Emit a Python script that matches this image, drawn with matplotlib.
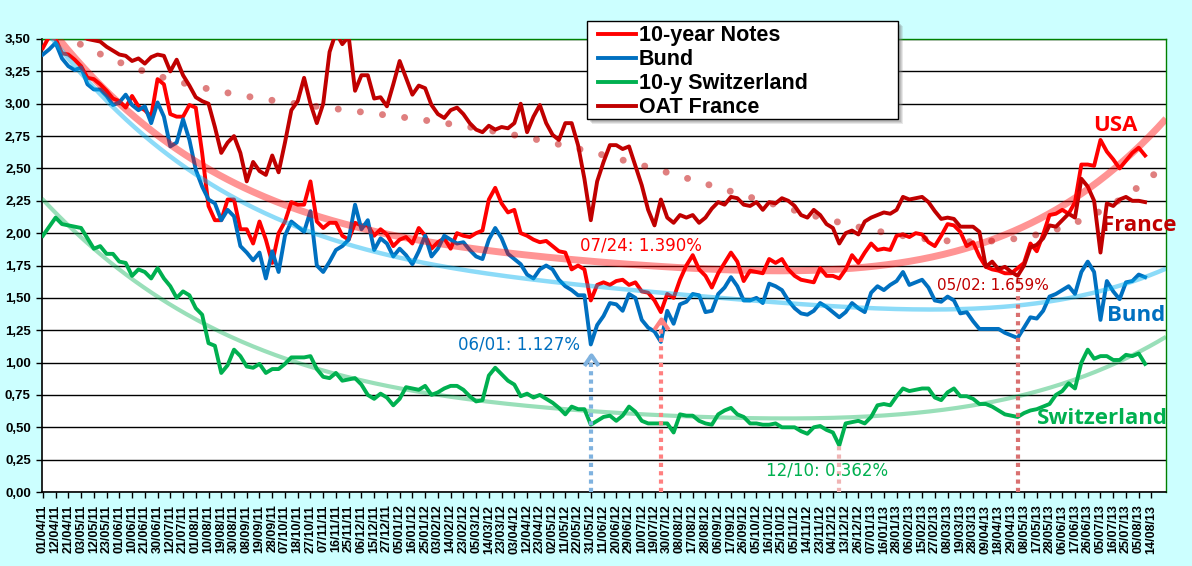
import numpy as np
import matplotlib
matplotlib.use("Agg")
import matplotlib.pyplot as plt
from matplotlib.patches import Rectangle
from matplotlib.path import Path
from matplotlib.ticker import FuncFormatter

# category labels (one every 7 trading days)
tick_dates = [
    '01/04/11', '12/04/11', '21/04/11', '03/05/11', '12/05/11', '23/05/11', '01/06/11', '10/06/11',
    '21/06/11', '30/06/11', '12/07/11', '21/07/11', '01/08/11', '10/08/11', '19/08/11', '30/08/11',
    '08/09/11', '19/09/11', '28/09/11', '07/10/11', '18/10/11', '27/10/11', '07/11/11', '16/11/11',
    '25/11/11', '06/12/11', '15/12/11', '27/12/11', '05/01/12', '16/01/12', '25/01/12', '03/02/12',
    '14/02/12', '23/02/12', '05/03/12', '14/03/12', '23/03/12', '03/04/12', '12/04/12', '23/04/12',
    '02/05/12', '11/05/12', '22/05/12', '31/05/12', '11/06/12', '20/06/12', '29/06/12', '10/07/12',
    '19/07/12', '30/07/12', '08/08/12', '17/08/12', '28/08/12', '06/09/12', '17/09/12', '26/09/12',
    '05/10/12', '16/10/12', '25/10/12', '05/11/12', '14/11/12', '23/11/12', '04/12/12', '13/12/12',
    '26/12/12', '07/01/13', '16/01/13', '28/01/13', '06/02/13', '15/02/13', '27/02/13', '08/03/13',
    '19/03/13', '28/03/13', '09/04/13', '18/04/13', '29/04/13', '08/05/13', '17/05/13', '28/05/13',
    '06/06/13', '17/06/13', '26/06/13', '05/07/13', '16/07/13', '25/07/13', '05/08/13', '14/08/13',
]

notes_10y = [
    3.43, 3.52, 3.50, 3.39, 3.38, 3.34, 3.29, 3.20, 3.19, 3.15, 3.10, 3.04, 3.02, 2.97, 3.06, 2.98,
    2.95, 2.90, 3.19, 3.15, 2.92, 2.90, 2.90, 2.99, 2.97, 2.62, 2.21, 2.10, 2.10, 2.26, 2.26, 2.03,
    2.03, 1.92, 2.09, 1.95, 1.77, 2.00, 2.09, 2.24, 2.22, 2.22, 2.40, 2.09, 2.04, 2.08,
    2.08, 1.98, 1.95, 2.08, 2.06, 2.06, 1.98, 2.03, 1.99, 1.90, 1.95, 1.97, 1.92, 2.04, 1.98, 1.88,
    1.93, 1.96, 1.88, 2.00, 1.98, 1.97, 2.00, 2.02, 2.26, 2.35, 2.23, 2.16, 2.18, 2.00, 1.98, 1.95,
    1.93, 1.94, 1.90, 1.86, 1.85, 1.72, 1.75, 1.72, 1.48, 1.60, 1.62, 1.60,
    1.63, 1.64, 1.60, 1.62, 1.55, 1.54, 1.48, 1.39, 1.53, 1.50, 1.64, 1.75, 1.83, 1.72, 1.67, 1.58,
    1.69, 1.77, 1.85, 1.78, 1.63, 1.71, 1.70, 1.69, 1.80, 1.77, 1.80, 1.72, 1.67, 1.64, 1.63, 1.62,
    1.73, 1.67, 1.67, 1.65, 1.72, 1.83, 1.77, 1.85, 1.92, 1.87, 1.88, 1.87,
    1.98, 1.99, 1.97, 2.00, 1.99, 1.93, 1.90, 1.98, 2.07, 2.06, 2.01, 1.90, 1.93, 1.82, 1.74, 1.72,
    1.71, 1.69, 1.69, 1.73, 1.77, 1.92, 1.86, 1.99, 2.14, 2.15, 2.18, 2.15, 2.24, 2.53, 2.53, 2.52,
    2.72, 2.63, 2.57, 2.50, 2.56, 2.62, 2.66, 2.60,
]
bund = [
    3.38, 3.42, 3.47, 3.35, 3.29, 3.26, 3.28, 3.15, 3.11, 3.11, 3.06, 2.99, 3.01, 3.07, 2.99, 2.95,
    2.98, 2.85, 3.01, 2.90, 2.67, 2.70, 2.88, 2.72, 2.49, 2.36, 2.26, 2.23, 2.10, 2.18, 2.13, 1.90,
    1.85, 1.79, 1.85, 1.65, 1.86, 1.70, 1.98, 2.09, 2.05, 2.01, 2.17, 1.75, 1.70, 1.78,
    1.87, 1.90, 1.95, 2.22, 2.03, 2.10, 1.87, 1.96, 1.92, 1.82, 1.88, 1.83, 1.76, 1.86, 1.98, 1.82,
    1.88, 1.98, 1.95, 1.92, 1.93, 1.87, 1.82, 1.80, 1.95, 2.04, 1.96, 1.84, 1.80, 1.76, 1.68, 1.65,
    1.72, 1.75, 1.72, 1.64, 1.59, 1.56, 1.52, 1.52, 1.14, 1.29, 1.36, 1.46,
    1.45, 1.40, 1.53, 1.50, 1.33, 1.27, 1.24, 1.16, 1.40, 1.30, 1.45, 1.47, 1.53, 1.52, 1.39, 1.40,
    1.53, 1.58, 1.66, 1.59, 1.48, 1.48, 1.50, 1.46, 1.61, 1.59, 1.56, 1.48, 1.42, 1.38, 1.37, 1.40,
    1.46, 1.43, 1.39, 1.35, 1.39, 1.46, 1.42, 1.39, 1.54, 1.59, 1.56, 1.60,
    1.63, 1.70, 1.60, 1.62, 1.64, 1.58, 1.48, 1.47, 1.51, 1.48, 1.38, 1.39, 1.32, 1.26, 1.26, 1.26,
    1.26, 1.23, 1.21, 1.19, 1.27, 1.35, 1.34, 1.40, 1.51, 1.53, 1.56, 1.59, 1.53, 1.70, 1.78, 1.70,
    1.33, 1.63, 1.55, 1.49, 1.62, 1.63, 1.68, 1.66,
]
swiss = [
    1.98, 2.05, 2.12, 2.07, 2.06, 2.05, 2.04, 1.96, 1.88, 1.90, 1.84, 1.84, 1.78, 1.77, 1.67, 1.72,
    1.70, 1.65, 1.73, 1.65, 1.59, 1.50, 1.55, 1.52, 1.42, 1.37, 1.15, 1.13, 0.92, 0.98, 1.10, 1.05,
    0.97, 0.96, 0.99, 0.92, 0.95, 0.95, 0.99, 1.04, 1.04, 1.04, 1.05, 0.95, 0.89, 0.88,
    0.92, 0.86, 0.87, 0.88, 0.83, 0.75, 0.72, 0.76, 0.73, 0.67, 0.72, 0.81, 0.80, 0.79, 0.82, 0.75,
    0.77, 0.80, 0.82, 0.82, 0.79, 0.74, 0.70, 0.71, 0.90, 0.96, 0.91, 0.86, 0.83, 0.74, 0.76, 0.73,
    0.75, 0.72, 0.69, 0.65, 0.60, 0.66, 0.64, 0.64, 0.52, 0.55, 0.58, 0.59,
    0.55, 0.59, 0.66, 0.62, 0.55, 0.53, 0.53, 0.53, 0.53, 0.46, 0.60, 0.59, 0.59, 0.55, 0.53, 0.52,
    0.60, 0.63, 0.65, 0.60, 0.58, 0.53, 0.53, 0.52, 0.52, 0.53, 0.50, 0.50, 0.50, 0.47, 0.45, 0.50,
    0.51, 0.48, 0.46, 0.36, 0.53, 0.54, 0.55, 0.53, 0.58, 0.67, 0.68, 0.67,
    0.74, 0.80, 0.78, 0.79, 0.80, 0.80, 0.73, 0.71, 0.77, 0.80, 0.74, 0.74, 0.72, 0.68, 0.68, 0.66,
    0.63, 0.60, 0.59, 0.58, 0.61, 0.63, 0.64, 0.66, 0.68, 0.75, 0.78, 0.84, 0.80, 1.00, 1.10, 1.03,
    1.05, 1.05, 1.02, 1.02, 1.06, 1.05, 1.07, 0.99,
]
oat_france = [
    3.60, 3.58, 3.62, 3.60, 3.57, 3.55, 3.53, 3.50, 3.49, 3.48, 3.44, 3.41, 3.38, 3.37, 3.33, 3.35,
    3.31, 3.36, 3.38, 3.37, 3.25, 3.34, 3.22, 3.14, 3.05, 3.02, 3.00, 2.82, 2.62, 2.70, 2.75, 2.62,
    2.40, 2.55, 2.48, 2.45, 2.60, 2.47, 2.70, 2.95, 3.02, 3.20, 3.00, 2.85, 3.00, 3.40,
    3.55, 3.46, 3.52, 3.10, 3.22, 3.22, 3.04, 3.05, 2.98, 3.15, 3.33, 3.20, 3.07, 3.14, 3.12, 2.99,
    2.92, 2.89, 2.95, 2.97, 2.92, 2.85, 2.80, 2.78, 2.83, 2.80, 2.82, 2.81, 2.85, 3.00, 2.78, 2.90,
    2.99, 2.85, 2.76, 2.72, 2.85, 2.85, 2.68, 2.42, 2.10, 2.40, 2.55, 2.68,
    2.68, 2.65, 2.67, 2.52, 2.37, 2.18, 2.06, 2.26, 2.12, 2.08, 2.14, 2.12, 2.14, 2.08, 2.12, 2.19,
    2.24, 2.22, 2.28, 2.27, 2.22, 2.21, 2.24, 2.18, 2.24, 2.23, 2.27, 2.25, 2.21, 2.14, 2.12, 2.18,
    2.14, 2.07, 2.04, 1.92, 2.00, 2.02, 1.99, 2.09, 2.12, 2.14, 2.16, 2.15,
    2.18, 2.28, 2.26, 2.27, 2.28, 2.24, 2.17, 2.11, 2.12, 2.11, 2.05, 2.05, 2.05, 2.01, 1.74, 1.78,
    1.72, 1.74, 1.70, 1.67, 1.75, 1.89, 1.91, 1.96, 2.06, 2.05, 2.10, 2.15, 2.12, 2.42, 2.36, 2.25,
    1.85, 2.23, 2.21, 2.26, 2.28, 2.25, 2.25, 2.24,
]

step = 3.5
x = np.arange(len(notes_10y)) * step
x_end = 617.0

W, H = 1192, 566
fig = plt.figure(figsize=(W / 100, H / 100), dpi=100, facecolor='#CCFFFF')
ax = fig.add_axes([0.0352, 0.1307, 0.9430, 0.8004])
ax.set_facecolor('white')

series = [
    ('10-year Notes', notes_10y, '#FF0000'),
    ('Bund', bund, '#0070C0'),
    ('10-y Switzerland', swiss, '#00B050'),
    ('OAT France', oat_france, '#C00000'),
]
handles = []
for name, vals, col in series:
    h, = ax.plot(x, vals, color=col, lw=2.8, label=name, zorder=3, solid_joinstyle='round')
    handles.append(h)

# polynomial trend lines (order 4)
xt = np.linspace(-0.5, x_end, 400)
def trend(vals, deg=4):
    return np.polyval(np.polyfit(x, vals, deg), xt)

ax.plot(xt, trend(notes_10y), color='#FF0000', alpha=0.42, lw=5, zorder=4, solid_capstyle='butt')
ax.plot(xt, trend(bund), color='#00B0F0', alpha=0.45, lw=3.2, zorder=4, solid_capstyle='butt')
ax.plot(xt, trend(swiss), color='#00B050', alpha=0.4, lw=3, zorder=4, solid_capstyle='butt')
ax.plot(xt, trend(oat_france), color='#C00000', alpha=0.5, lw=5, zorder=4,
        linestyle=(0, (0.01, 3.2)), dash_capstyle='round')

chevron = Path([(-0.55, -0.8), (0.0, 0.0), (0.55, -0.8)], [Path.MOVETO, Path.LINETO, Path.LINETO])

# minimum markers: dotted line from the axis up to the low
def low_arrow(vals, lo, hi, color, gap, text, dx, dy, tcolor, size, head=True, ha='left'):
    seg = np.array(vals[lo:hi])
    i = lo + int(np.argmin(seg))
    xm, vm = x[i], vals[i]
    top = vm - gap
    ax.plot([xm, xm], [0, top], color=color, lw=3, ls=(0, (1, 1)), zorder=5,
            dash_capstyle='butt')
    if head:
        ax.plot([xm], [top], marker=chevron, ms=15, mfc='none', mec=color, mew=3, zorder=5)
    ax.annotate(text, xy=(xm, vm), xytext=(dx, dy), textcoords='offset points',
                ha=ha, va='center', color=tcolor, fontsize=size,
                family='DejaVu Sans', zorder=6)

low_arrow(bund, 80, 92, '#7FB2DF', 0.08, '06/01: 1.127%', -8, 0, '#0070C0', 12, ha='right')
low_arrow(notes_10y, 92, 100, '#FF8080', 0.05, '07/24: 1.390%', -58, 48, '#FF0000', 12)
low_arrow(swiss, 118, 130, '#F0B4B4', 0.0, '12/10: 0.362%', -53, -18, '#00B050', 12, head=False)
low_arrow(oat_france, 145, 158, '#D97070', 0.02, '05/02: 1.659%', -58, -7, '#C00000', 11, head=False)

# country labels at the right end
lab = dict(fontsize=16, fontweight='bold', family='Open Sans', va='center', zorder=6, clip_on=False)
ax.text(589, 2.83, 'USA', color='#FF0000', ha='center', **lab)
ax.text(582, 2.06, 'France', color='#C00000', ha='left', **lab)
ax.text(584.5, 1.36, 'Bund', color='#0070C0', ha='left', **lab)
ax.text(546, 0.57, 'Switzerland', color='#00B050', ha='left', **lab)

# axes
ax.set_xlim(-0.5, x_end)
ax.set_ylim(0, 3.5)
ax.set_yticks(np.arange(0, 3.51, 0.25))
ax.yaxis.set_major_formatter(FuncFormatter(lambda v, p: f'{v:.2f}'.replace('.', ',')))
ax.set_xticks(np.arange(len(tick_dates)) * 7)
ax.set_xticklabels(tick_dates, rotation=90)
ax.grid(axis='y', color='black', lw=1, zorder=1)
ax.set_axisbelow(True)
ax.tick_params(axis='x', length=4, width=1, direction='out', pad=5, labelsize=9)
ax.tick_params(axis='y', length=4, width=1, direction='out', pad=4, labelsize=9.5)
for lbl in ax.get_xticklabels() + ax.get_yticklabels():
    lbl.set_fontweight('bold')
    lbl.set_family('Liberation Sans')
for side in ('left', 'bottom'):
    ax.spines[side].set_color('black')
    ax.spines[side].set_linewidth(1.2)
for side in ('top', 'right'):
    ax.spines[side].set_color('#008000')
    ax.spines[side].set_linewidth(1)

# legend box (drawn by hand so it keeps the reference size) with a soft shadow
bx0, by0, bx1, by1 = 587, 21, 898, 119
for off, a in ((5, 0.18), (4, 0.22), (3, 0.25)):
    fig.patches.append(Rectangle(((bx0 + off) / W, 1 - (by1 + off) / H), (bx1 - bx0) / W,
                                 (by1 - by0) / H, transform=fig.transFigure,
                                 facecolor='#808080', edgecolor='none', alpha=a, zorder=9))
fig.patches.append(Rectangle((bx0 / W, 1 - by1 / H), (bx1 - bx0) / W, (by1 - by0) / H,
                             transform=fig.transFigure, facecolor='white', edgecolor='black',
                             lw=1, zorder=9.5))
leg = fig.legend(handles=handles, loc='upper left', bbox_to_anchor=(596 / W, 1 - 23 / H),
                 bbox_transform=fig.transFigure, borderaxespad=0, frameon=False,
                 prop={'family': 'Liberation Sans', 'weight': 'bold', 'size': 15.5},
                 handlelength=1.75, handletextpad=0.15, labelspacing=0.14, borderpad=0.1)
leg.set_zorder(11)

fig.savefig('out.png', dpi=100, facecolor=fig.get_facecolor())
